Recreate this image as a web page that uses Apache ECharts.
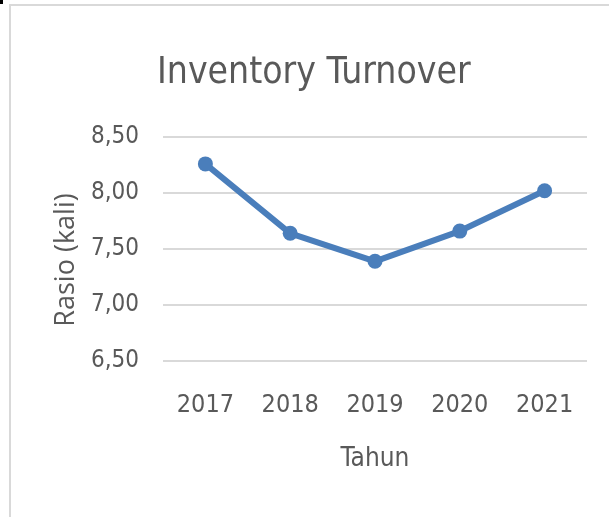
<!DOCTYPE html>
<html>
<head>
<meta charset="utf-8">
<script src="https://cdn.jsdelivr.net/npm/echarts@6/dist/echarts.min.js"></script>
<style>
  html, body { margin: 0; padding: 0; background: #fff; overflow: hidden; }
  #frame { position: absolute; left: 9px; top: 4px; width: 700px; height: 600px;
           border-left: 2px solid #d9d9d9; border-top: 2px solid #d9d9d9; }
  #mark { position: absolute; left: 0; top: 0; width: 3px; height: 4px; background: #000; }
  #chart { position: absolute; left: 0; top: 0; width: 609px; height: 517px; }
</style>
</head>
<body>
<div id="frame"></div>
<div id="mark"></div>
<div id="chart"></div>
<script>
// data
const years = ['2017', '2018', '2019', '2020', '2021'];
const turnover = [8.26, 7.64, 7.39, 7.66, 8.02];
const yTicks = { min: 6.5, max: 8.5, step: 0.5 };

const narrow = '"Liberation Sans Narrow", "DejaVu Sans Condensed", sans-serif';
const textColor = '#595959';

var myChart = echarts.init(document.getElementById('chart'));
var option = {
    animation: false,
    title: {
        text: 'Inventory Turnover',
        left: 152,
        top: 50,
        textStyle: { fontFamily: narrow, fontSize: 37, fontWeight: 'normal', color: textColor }
    },
    grid: { left: 163, right: 22, top: 137, bottom: 156 },
    xAxis: {
        type: 'category',
        data: years,
        name: 'Tahun',
        nameLocation: 'middle',
        nameGap: 85,
        nameTextStyle: { fontFamily: narrow, fontSize: 26, color: textColor },
        axisLine: { show: false },
        axisTick: { show: false },
        axisLabel: { fontFamily: narrow, fontSize: 25, color: textColor, margin: 32 }
    },
    yAxis: {
        type: 'value',
        min: yTicks.min,
        max: yTicks.max,
        interval: yTicks.step,
        name: 'Rasio (kali)',
        nameLocation: 'middle',
        nameGap: 80,
        nameRotate: 90,
        nameTextStyle: { fontFamily: '"Open Sans", sans-serif', fontSize: 27, color: textColor, padding: [0, 22, 0, 0] },
        axisLine: { show: false },
        axisTick: { show: false },
        axisLabel: {
            fontFamily: narrow, fontSize: 24, color: textColor, margin: 24,
            formatter: v => v.toFixed(2).replace('.', ',')
        },
        splitLine: { lineStyle: { color: '#d9d9d9', width: 2 } }
    },
    series: [{
        type: 'line',
        data: turnover,
        symbol: 'circle',
        symbolSize: 15,
        itemStyle: { color: '#4a7ebb' },
        lineStyle: { color: '#4a7ebb', width: 6 }
    }]
};
myChart.setOption(option);
</script>
</body>
</html>
